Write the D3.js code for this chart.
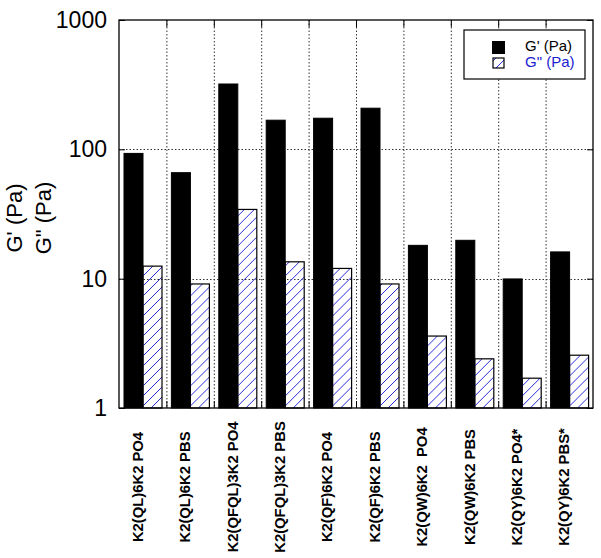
<!DOCTYPE html>
<html lang="en">
<head>
<meta charset="UTF-8">
<title>G' and G'' bar chart</title>
<script src="https://d3js.org/d3.v7.min.js"></script>
<style>
    body { margin: 0; background: #fff; }
    text { font-family: "Liberation Sans", Arial, sans-serif; }
    .grid line { stroke: #333; stroke-width: 1; stroke-dasharray: 1.5,2; }
</style>
</head>
<body>
<div id="chart"></div>
<script>
    // data
    var categories = ["K2(QL)6K2 PO4", "K2(QL)6K2 PBS", "K2(QFQL)3K2 PO4", "K2(QFQL)3K2 PBS",
        "K2(QF)6K2 PO4", "K2(QF)6K2 PBS", "K2(QW)6K2  PO4", "K2(QW)6K2 PBS",
        "K2(QY)6K2 PO4*", "K2(QY)6K2 PBS*"];
    var gPrime = [93, 66, 320, 168, 174, 208, 18.1, 19.8, 9.95, 16.1];
    var gDouble = [12.5, 9.1, 34.3, 13.5, 12, 9.1, 3.6, 2.4, 1.7, 2.56];
    var yTicks = [1, 10, 100, 1000];
    var seriesNames = ["G' (Pa)", "G\" (Pa)"];

    var margin = {top: 20, right: 8, bottom: 150, left: 119},
        width = 593 - margin.left,
        height = 408 - margin.top;

    var svg = d3.select("#chart").append("svg")
        .attr("width", 601)
        .attr("height", 558);

    // hatch for G''
    var defs = svg.append("defs");
    defs.append("pattern")
        .attr("id", "hatch")
        .attr("patternUnits", "userSpaceOnUse")
        .attr("width", 10).attr("height", 10)
        .append("path")
        .attr("d", "M-2,12 L12,-2 M-2,2 L2,-2 M8,12 L12,8")
        .attr("stroke", "#2c2cd8")
        .attr("stroke-width", 1);

    var g = svg.append("g")
        .attr("transform", "translate(" + margin.left + "," + margin.top + ")");

    var x = d3.scaleBand().domain(categories).range([0, width]).paddingInner(0).paddingOuter(0);
    var xs = d3.scaleBand().domain([0, 1]).range([5, x.bandwidth() - 4.4]);
    var y = d3.scaleLog().domain([1, 1000]).range([height, 0]);

    // dotted grid
    var grid = g.append("g").attr("class", "grid");
    grid.selectAll(".v").data(categories.slice(1)).enter().append("line")
        .attr("x1", function(d) { return x(d) + 0.5; })
        .attr("x2", function(d) { return x(d) + 0.5; })
        .attr("y1", 0).attr("y2", height);
    grid.selectAll(".h").data([10, 100]).enter().append("line")
        .attr("x1", 0).attr("x2", width)
        .attr("y1", function(d) { return Math.round(y(d)) + 0.5; })
        .attr("y2", function(d) { return Math.round(y(d)) + 0.5; });

    // bars
    var groups = g.selectAll(".grp").data(categories).enter().append("g")
        .attr("transform", function(d) { return "translate(" + x(d) + ",0)"; });

    groups.append("rect")
        .attr("x", xs(0))
        .attr("width", xs.bandwidth())
        .attr("y", function(d, i) { return y(gPrime[i]); })
        .attr("height", function(d, i) { return height - y(gPrime[i]); })
        .attr("fill", "#000")
        .attr("stroke", "#000");

    groups.append("rect")
        .attr("x", xs(1))
        .attr("width", xs.bandwidth())
        .attr("y", function(d, i) { return y(gDouble[i]); })
        .attr("height", function(d, i) { return height - y(gDouble[i]); })
        .attr("fill", "url(#hatch)")
        .attr("stroke", "#000")
        .attr("stroke-width", 1.2);

    // category ticks (top and bottom, inward)
    var bounds = categories.slice(1).map(function(d) { return x(d) + 0.5; });
    g.selectAll(".tb").data(bounds).enter().append("line")
        .attr("x1", function(d) { return d; }).attr("x2", function(d) { return d; })
        .attr("y1", height).attr("y2", height - 7)
        .attr("stroke", "#000");
    g.selectAll(".tt").data(bounds).enter().append("line")
        .attr("x1", function(d) { return d; }).attr("x2", function(d) { return d; })
        .attr("y1", 0).attr("y2", 7)
        .attr("stroke", "#000");

    // y axis
    var yAxis = g.append("g")
        .call(d3.axisLeft(y).tickValues(yTicks).tickFormat(d3.format("d")).tickSizeInner(-6).tickSizeOuter(0).tickPadding(12));
    yAxis.select(".domain").remove();
    yAxis.selectAll("text").attr("font-size", 23).attr("fill", "#000")
        .style("font-family", "'Liberation Sans', Arial, sans-serif");
    var yAxisR = g.append("g").attr("transform", "translate(" + width + ",0)")
        .call(d3.axisRight(y).tickValues(yTicks).tickFormat("").tickSizeInner(-6).tickSizeOuter(0));
    yAxisR.select(".domain").remove();

    // frame
    g.append("rect")
        .attr("width", width).attr("height", height)
        .attr("fill", "none").attr("stroke", "#000").attr("stroke-width", 1.3);

    // x labels, centred a fixed distance below the axis
    g.selectAll(".xl").data(categories).enter().append("text")
        .attr("transform", function(d) {
            return "translate(" + (x(d) + x.bandwidth() / 2) + "," + (height + 79) + ") rotate(-90)";
        })
        .attr("text-anchor", "middle")
        .attr("font-size", 14.8)
        .attr("font-weight", "bold")
        .style("white-space", "pre")
        .text(function(d) { return d; });

    // y title
    svg.append("text")
        .attr("transform", "translate(22,218) rotate(-90)")
        .attr("text-anchor", "middle")
        .attr("font-size", 22)
        .text(seriesNames[0]);
    svg.append("text")
        .attr("transform", "translate(51,218) rotate(-90)")
        .attr("text-anchor", "middle")
        .attr("font-size", 22)
        .text(seriesNames[1]);

    // legend
    var lg = svg.append("g").attr("transform", "translate(464,30)");
    lg.append("rect").attr("width", 121).attr("height", 49)
        .attr("fill", "#fff").attr("stroke", "#000").attr("stroke-width", 1.2);
    lg.append("rect").attr("x", 28).attr("y", 11).attr("width", 13).attr("height", 13).attr("fill", "#000");
    lg.append("rect").attr("x", 29).attr("y", 28).attr("width", 11).attr("height", 10)
        .attr("fill", "url(#hatch)").attr("stroke", "#000").attr("stroke-width", 1.2);
    lg.append("text").attr("x", 61).attr("y", 21).attr("font-size", 15).attr("fill", "#000").text(seriesNames[0]);
    lg.append("text").attr("x", 61).attr("y", 37).attr("font-size", 15).attr("fill", "#2020d0").text(seriesNames[1]);
</script>
</body>
</html>
